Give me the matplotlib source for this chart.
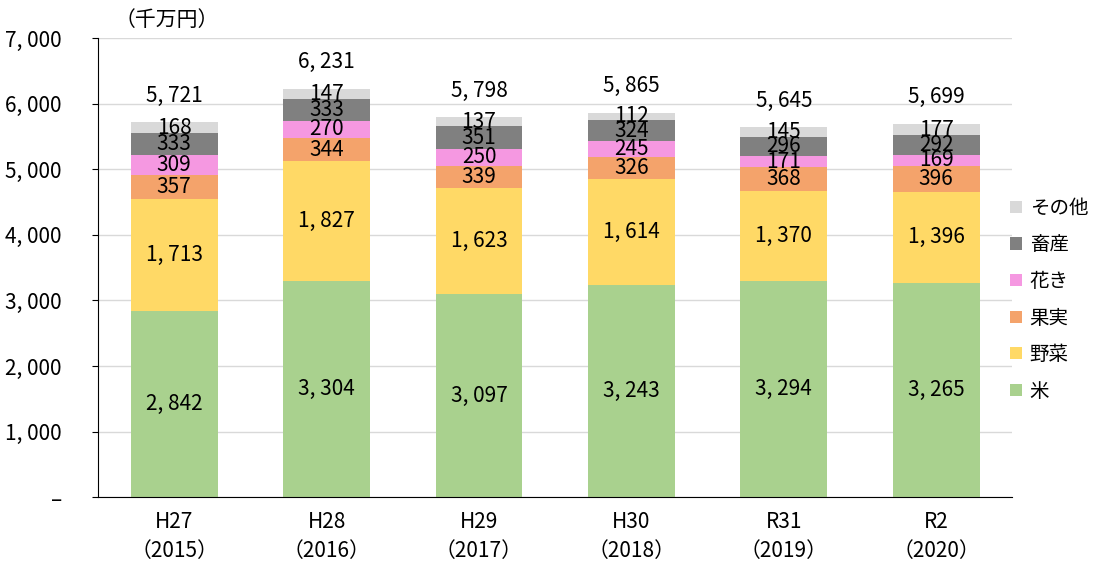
import numpy as np
import matplotlib
matplotlib.use('Agg')
import matplotlib.pyplot as plt
from matplotlib.ticker import FuncFormatter

plt.rcParams['font.family'] = ['Noto Sans CJK JP', 'DejaVu Sans']

# データ（千万円）
years = ['H27\n（2015）', 'H28\n（2016）', 'H29\n（2017）', 'H30\n（2018）', 'R31\n（2019）', 'R2\n（2020）']
kome = [2842, 3304, 3097, 3243, 3294, 3265]
yasai = [1713, 1827, 1623, 1614, 1370, 1396]
kajitsu = [357, 344, 339, 326, 368, 396]
kaki = [309, 270, 250, 245, 171, 169]
chikusan = [333, 333, 351, 324, 296, 292]
sonota = [168, 147, 137, 112, 145, 177]
totals = [5721, 6231, 5798, 5865, 5645, 5699]

series = [
    ('米', kome, '#A9D18E'),
    ('野菜', yasai, '#FFD966'),
    ('果実', kajitsu, '#F4A36B'),
    ('花き', kaki, '#F598E1'),
    ('畜産', chikusan, '#808080'),
    ('その他', sonota, '#D9D9D9'),
]


def fmt(v):
    return '{:,}'.format(int(v)).replace(',', ', ')


fig = plt.figure(figsize=(11.07, 5.63), dpi=100)
ax = fig.add_axes([0.0885, 0.117, 0.826, 0.815])

x = np.arange(len(years))
bottom = np.zeros(len(years))
handles = []
for name, vals, col in series:
    b = ax.bar(x, vals, 0.57, bottom=bottom, color=col, label=name, zorder=2)
    handles.append(b)
    for xi, v, bt in zip(x, vals, bottom):
        ax.text(xi, bt + v / 2, fmt(v), ha='center', va='center', fontsize=15, zorder=3)
    bottom = bottom + np.array(vals)

for xi, t in zip(x, totals):
    ax.annotate(fmt(t), (xi, t), xytext=(0, 19), textcoords='offset points',
                ha='center', va='center', fontsize=15)

ax.set_xlim(-0.5, len(years) - 0.5)
ax.set_ylim(0, 7000)
ax.set_yticks(range(0, 7001, 1000))
ax.yaxis.set_major_formatter(FuncFormatter(lambda v, p: '–' if v == 0 else fmt(v)))
ax.set_xticks(x)
ax.set_xticklabels(years, fontsize=15, linespacing=1.4)
ax.tick_params(axis='y', labelsize=15, length=4, pad=22)
ax.tick_params(axis='x', length=0, pad=10)
ax.grid(axis='y', color='#D9D9D9', linewidth=1, zorder=0)
for s in ['top', 'right']:
    ax.spines[s].set_visible(False)
ax.spines['left'].set_color('black')
ax.spines['bottom'].set_color('black')

fig.text(0.103, 0.965, '（千万円）', fontsize=15, ha='left', va='center')

ax.legend(handles[::-1], [s[0] for s in series][::-1], loc='center left',
          bbox_to_anchor=(0.985, 0.43), frameon=False, fontsize=14,
          handlelength=0.6, handleheight=0.6, handletextpad=0.4, labelspacing=0.8,
          borderaxespad=0.2)

fig.savefig('out.png', dpi=100)
